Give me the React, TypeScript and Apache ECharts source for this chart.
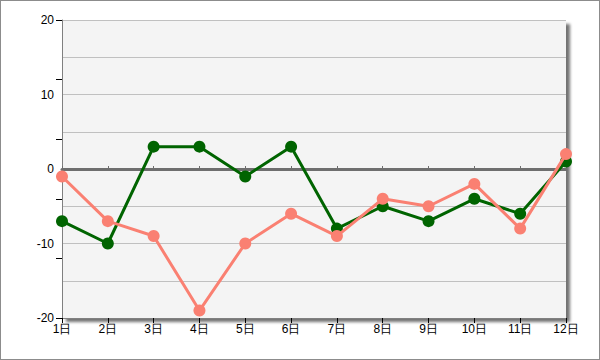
import React, { useEffect, useRef } from "react";
import * as echarts from "echarts";

const categories = ["1日", "2日", "3日", "4日", "5日", "6日", "7日", "8日", "9日", "10日", "11日", "12日"];
const greenValues = [-7, -10, 3, 3, -1, 3, -8, -5, -7, -4, -6, 1];
const salmonValues = [-1, -7, -9, -19, -10, -6, -9, -4, -5, -2, -8, 2];
const yMin = -20;
const yMax = 20;

export default function App() {
  const ref = useRef<HTMLDivElement>(null);
  useEffect(() => {
    if (!ref.current) return;
    const chart = echarts.init(ref.current, null, { renderer: "svg" });
    const font = "Liberation Sans, Arial, sans-serif";
    chart.setOption({
      animation: false,
      backgroundColor: "#ffffff",
      grid: {
        left: 61,
        right: 33,
        top: 19,
        bottom: 41,
        show: true,
        backgroundColor: "#f4f4f4",
        borderColor: "#b8b8b8",
        borderWidth: 0,
        shadowColor: "rgba(0,0,0,0.55)",
        shadowBlur: 3,
        shadowOffsetX: 4,
        shadowOffsetY: 4,
      },
      xAxis: [
        {
          type: "category",
          data: categories,
          boundaryGap: false,
          position: "bottom",
          axisLine: { onZero: false, lineStyle: { color: "#808080", width: 1 } },
          axisTick: { show: true, length: 5, alignWithLabel: true, lineStyle: { color: "#000" } },
          axisLabel: { color: "#000", fontSize: 12, fontFamily: font, margin: 5, interval: 0 },
          splitLine: { show: false },
        },
        {
          type: "category",
          data: categories,
          boundaryGap: false,
          position: "bottom",
          axisLine: { onZero: true, lineStyle: { color: "#6e6e6e", width: 3 } },
          axisTick: { show: true, inside: true, length: 3, lineStyle: { color: "#6e6e6e", width: 1 } },
          axisLabel: { show: false },
          splitLine: { show: false },
        },
      ],
      yAxis: [
        {
          type: "value",
          min: yMin,
          max: yMax,
          interval: 5,
          axisLine: { show: true, onZero: false, lineStyle: { color: "#808080", width: 1 } },
          axisTick: { show: false },
          axisLabel: {
            color: "#000",
            fontSize: 12,
            fontFamily: font,
            margin: 8,
            formatter: (v: number) => (v % 10 === 0 ? String(v) : ""),
          },
          splitLine: { show: true, lineStyle: { color: "#c0c0c0", width: 1 } },
        },
        {
          type: "value",
          min: 0,
          max: 5,
          interval: 1,
          position: "left",
          axisLine: { show: false, onZero: false },
          axisTick: { show: true, length: 6, lineStyle: { color: "#000" } },
          axisLabel: { show: false },
          splitLine: { show: false },
        },
      ],
      series: [
        {
          type: "line",
          data: greenValues,
          xAxisIndex: 0,
          yAxisIndex: 0,
          color: "#006400",
          lineStyle: { width: 3, color: "#006400" },
          itemStyle: { color: "#006400" },
          symbol: "circle",
          symbolSize: 12,
          z: 3,
        },
        {
          type: "line",
          data: salmonValues,
          xAxisIndex: 0,
          yAxisIndex: 0,
          color: "#fa8072",
          lineStyle: { width: 3, color: "#fa8072" },
          itemStyle: { color: "#fa8072" },
          symbol: "circle",
          symbolSize: 12,
          z: 4,
        },
      ],
    });
    return () => chart.dispose();
  }, []);
  return (
    <div
      style={{
        position: "fixed",
        left: 0,
        top: 0,
        width: 600,
        height: 360,
        boxSizing: "border-box",
        border: "1px solid #8c8c8c",
        background: "#fff",
      }}
    >
      <div ref={ref} style={{ width: 598, height: 358 }} />
    </div>
  );
}
